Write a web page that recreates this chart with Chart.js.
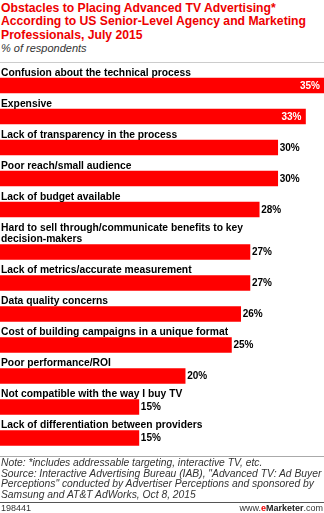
<!DOCTYPE html>
<html><head><meta charset="utf-8">
<script src="https://cdn.jsdelivr.net/npm/chart.js@4.4.1/dist/chart.umd.min.js"></script>
<style>
html,body{margin:0;padding:0;background:#fff;width:324px;height:513px;overflow:hidden;font-family:"Liberation Sans",Arial,sans-serif;}
.abs{position:absolute;left:0;}
#title{left:1px;top:2px;font-weight:bold;font-size:12.2px;line-height:13.3px;color:#e00;white-space:nowrap;}
#sub{left:1px;top:42px;font-style:italic;font-size:11px;line-height:12px;color:#333;}
#rule1{top:62px;width:324px;height:1px;background:#ccc;}
#chartbox{top:63px;width:324px;height:394px;}
#rule2{top:456px;width:324px;height:1px;background:#aaa;}
#notes{left:1px;top:458px;font-style:italic;font-size:10.3px;line-height:10.6px;color:#333;white-space:nowrap;}
#rule3{top:502px;width:324px;height:1px;background:#555;}
#fid{left:1px;top:503px;font-size:9px;line-height:10px;color:#333;}
#site{left:auto;right:1px;top:503px;font-size:9px;line-height:10px;color:#333;}
#site b{color:#222;}
#site .e{color:#e00;}
</style></head>
<body>
<div id="title" class="abs">Obstacles to Placing Advanced TV Advertising*<br>According to US Senior-Level Agency and Marketing<br>Professionals, July 2015</div>
<div id="sub" class="abs">% of respondents</div>
<div id="rule1" class="abs"></div>
<div id="chartbox" class="abs"><canvas id="c" width="324" height="394"></canvas></div>
<div id="rule2" class="abs"></div>
<div id="notes" class="abs">Note: *includes addressable targeting, interactive TV, etc.<br>Source: Interactive Advertising Bureau (IAB), "Advanced TV: Ad Buyer<br>Perceptions" conducted by Advertiser Perceptions and sponsored by<br>Samsung and AT&amp;T AdWorks, Oct 8, 2015</div>
<div id="rule3" class="abs"></div>
<div id="fid" class="abs">198441</div>
<div id="site" class="abs">www.<b><span class="e">e</span>Marketer</b>.com</div>
<script>
const categories = [
  ["Confusion about the technical process"],
  ["Expensive"],
  ["Lack of transparency in the process"],
  ["Poor reach/small audience"],
  ["Lack of budget available"],
  ["Hard to sell through/communicate benefits to key", "decision-makers"],
  ["Lack of metrics/accurate measurement"],
  ["Data quality concerns"],
  ["Cost of building campaigns in a unique format"],
  ["Poor performance/ROI"],
  ["Not compatible with the way I buy TV"],
  ["Lack of differentiation between providers"]
];
const values = [35, 33, 30, 30, 28, 27, 27, 26, 25, 20, 15, 15];
const xMax = 35;

// row layout derived from label line counts
const LINE = 11.5, ROW_BASE = 19.5, BAR_T = 15, BOTTOM_GAP = 10.5;
const positions = [];
let acc = 0;
categories.forEach(lines => {
  positions.push(acc + 3.5 + LINE * lines.length + BAR_T / 2);
  acc += ROW_BASE + LINE * lines.length;
});
const yMax = acc + BOTTOM_GAP;

const FONT = '"Liberation Sans", Arial, sans-serif';
const labelPlugin = {
  id: 'barLabels',
  afterDatasetsDraw(chart) {
    const ctx = chart.ctx;
    const meta = chart.getDatasetMeta(0);
    const x0 = chart.scales.x.getPixelForValue(0);
    const right = chart.chartArea.right;
    meta.data.forEach((bar, i) => {
      const lines = categories[i];
      const top = bar.y - bar.height / 2;
      ctx.save();
      ctx.font = 'bold 10.3px ' + FONT;
      ctx.fillStyle = '#000';
      ctx.textAlign = 'left';
      ctx.textBaseline = 'alphabetic';
      lines.forEach((ln, j) => {
        ctx.fillText(ln, x0 + 1, top - 2.5 - (lines.length - 1 - j) * LINE);
      });
      ctx.font = 'bold 10px ' + FONT;
      ctx.textBaseline = 'middle';
      const txt = values[i] + '%';
      const w = ctx.measureText(txt).width;
      if (bar.x + 3 + w > right) {
        ctx.fillStyle = '#fff';
        ctx.textAlign = 'right';
        ctx.fillText(txt, bar.x - 4, bar.y + 0.5);
      } else {
        ctx.fillStyle = '#000';
        ctx.textAlign = 'left';
        ctx.fillText(txt, bar.x + 2, bar.y + 0.5);
      }
      ctx.restore();
    });
  }
};

new Chart(document.getElementById('c'), {
  type: 'bar',
  data: {
    datasets: [{
      data: values.map((v, i) => ({ x: v, y: positions[i] })),
      backgroundColor: '#ff0000',
      borderWidth: 0,
      barThickness: BAR_T
    }]
  },
  options: {
    indexAxis: 'y',
    responsive: false,
    devicePixelRatio: 1,
    animation: false,
    layout: { padding: 0 },
    scales: {
      x: { type: 'linear', min: 0, max: xMax, display: false, offset: false },
      y: { type: 'linear', min: 0, max: yMax, reverse: true, display: false, offset: false }
    },
    plugins: { legend: { display: false }, tooltip: { enabled: false }, title: { display: false } }
  },
  plugins: [labelPlugin]
});
</script>
</body></html>
